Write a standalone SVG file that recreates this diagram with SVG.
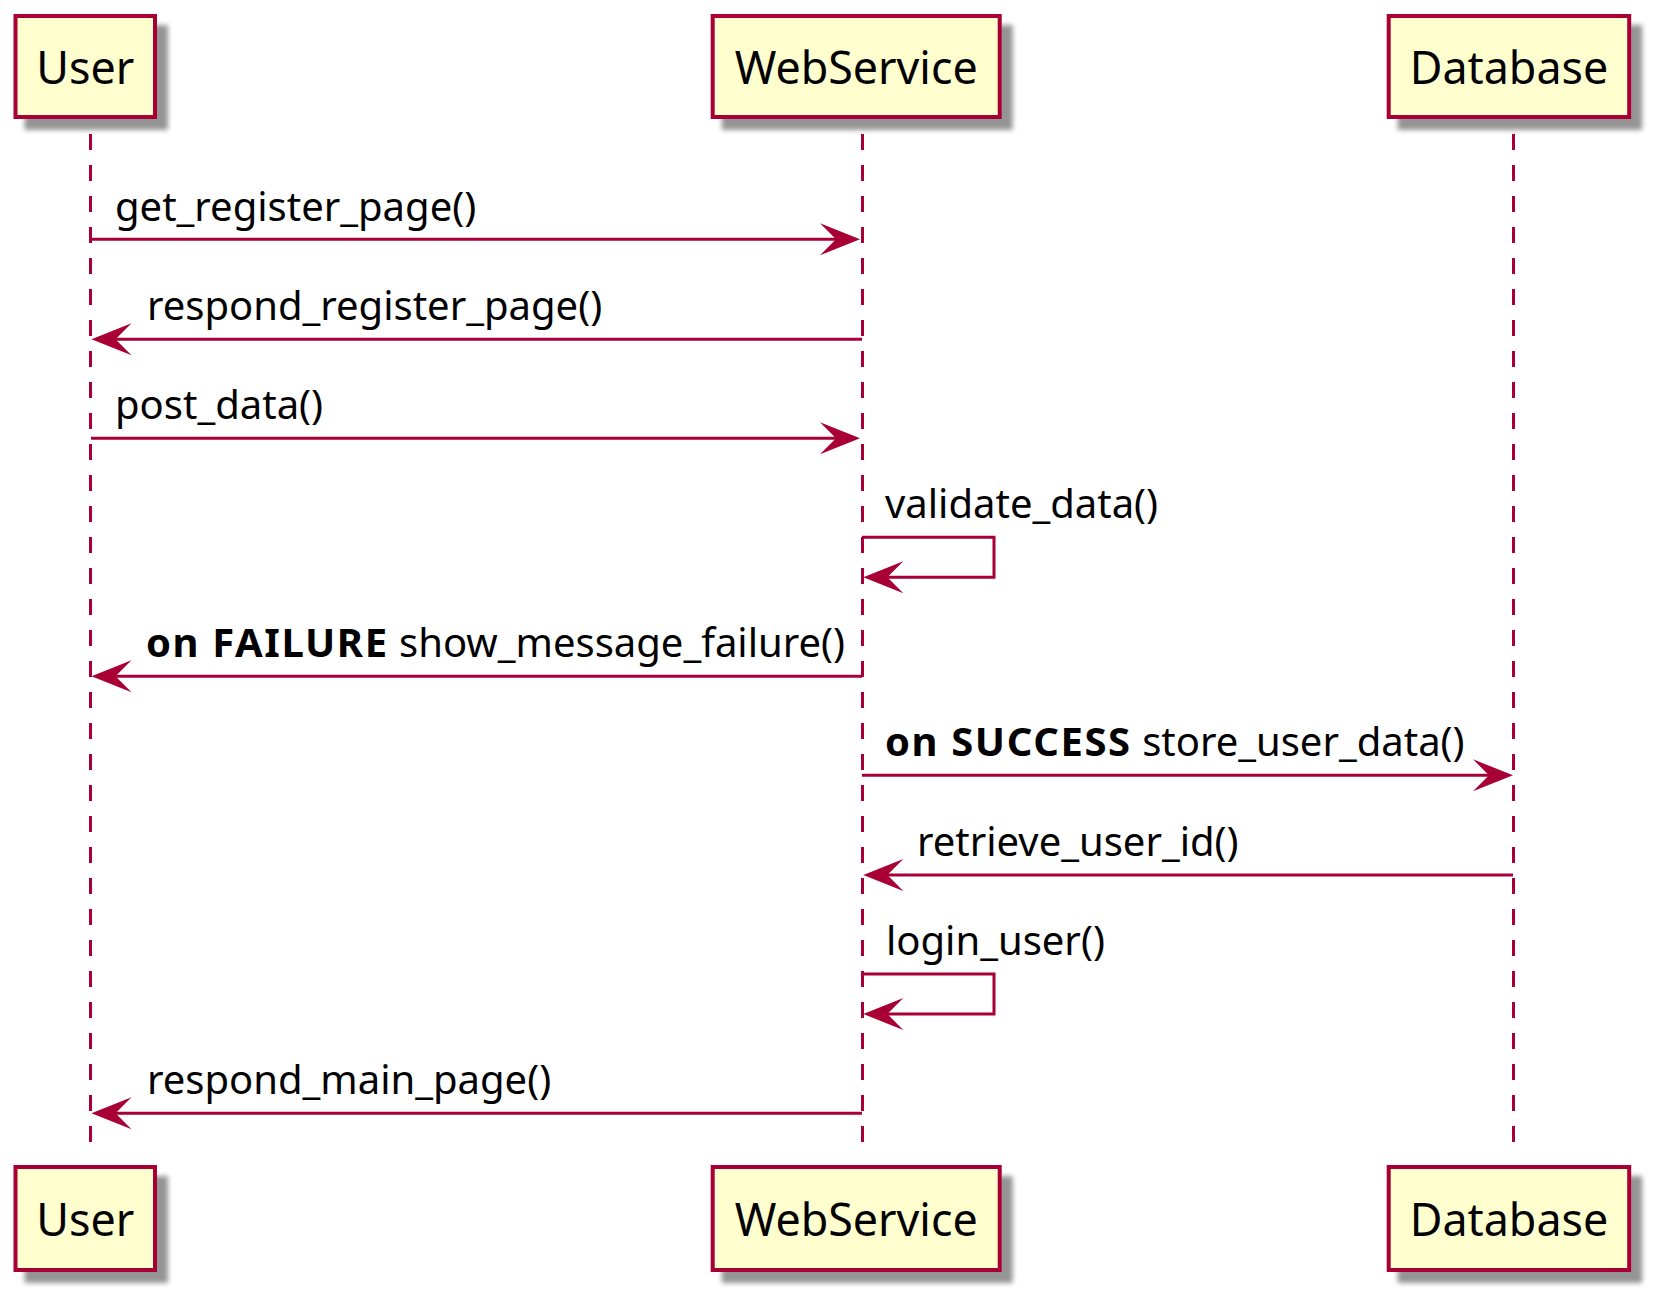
<svg xmlns="http://www.w3.org/2000/svg" width="1669" height="1310" viewBox="0 0 1669 1310">
<style>
.box{fill:#FEFECE;stroke:#A80036;stroke-width:4}
.pt{font-family:"Noto Sans","Liberation Sans",sans-serif;font-size:44.8px;fill:#000;text-anchor:middle}
.life{stroke:#A80036;stroke-width:3;stroke-dasharray:16,15;fill:none}
.msg{stroke:#A80036;stroke-width:3;fill:none;marker-end:url(#ah)}
.mt{font-family:"Noto Sans","Liberation Sans",sans-serif;font-size:40px;fill:#000}
.b{font-weight:bold;letter-spacing:1.6px}
</style>
<defs>
<filter id="sh" x="-20%" y="-20%" width="150%" height="160%">
<feGaussianBlur in="SourceAlpha" stdDeviation="2.5"/>
<feOffset dx="11" dy="11" result="o"/>
<feComponentTransfer in="o" result="s"><feFuncA type="linear" slope="0.42"/></feComponentTransfer>
<feMerge><feMergeNode in="s"/><feMergeNode in="SourceGraphic"/></feMerge>
</filter>
<marker id="ah" markerUnits="userSpaceOnUse" viewBox="-42 -18 44 36" markerWidth="44" markerHeight="36" refX="-10" refY="0" orient="auto">
<path d="M0,0 L-40,-16 L-24,0 L-40,16 Z" fill="#A80036"/>
</marker>
</defs>
<rect width="1669" height="1310" fill="#FFFFFF"/>
<g id="lifelines">
<line class="life" x1="90.5" y1="134" x2="90.5" y2="1150"/>
<line class="life" x1="862.5" y1="134" x2="862.5" y2="1150"/>
<line class="life" x1="1513.5" y1="134" x2="1513.5" y2="1150"/>
</g>
<g id="user">
<rect class="box" filter="url(#sh)" x="15.5" y="16" width="139.5" height="101"/>
<text class="pt" x="85.3" y="83.5">User</text>
</g>
<g id="webservice">
<rect class="box" filter="url(#sh)" x="712.7" y="16" width="287" height="101"/>
<text class="pt" x="856.2" y="83.5">WebService</text>
</g>
<g id="database">
<rect class="box" filter="url(#sh)" x="1388.7" y="16" width="240.5" height="101"/>
<text class="pt" x="1509" y="83.5">Database</text>
</g>
<g id="user-bottom">
<rect class="box" filter="url(#sh)" x="15.5" y="1167" width="139.5" height="103"/>
<text class="pt" x="85.3" y="1235.5">User</text>
</g>
<g id="webservice-bottom">
<rect class="box" filter="url(#sh)" x="712.7" y="1167" width="287" height="103"/>
<text class="pt" x="856.2" y="1235.5">WebService</text>
</g>
<g id="database-bottom">
<rect class="box" filter="url(#sh)" x="1388.7" y="1167" width="240.5" height="103"/>
<text class="pt" x="1509" y="1235.5">Database</text>
</g>
<g id="connectors">
<path class="msg" d="M91,239.3 H850"/>
<path class="msg" d="M862,339.3 H101.5"/>
<path class="msg" d="M91,438.3 H850"/>
<path class="msg" d="M862,537.3 H994 V577.3 H873.3"/>
<path class="msg" d="M862,676.3 H101.5"/>
<path class="msg" d="M862,775.3 H1503"/>
<path class="msg" d="M1513,875 H873.3"/>
<path class="msg" d="M862,974 H994 V1014 H873.3"/>
<path class="msg" d="M862,1113.3 H101.5"/>
</g>
<g id="labels">
<text class="mt" x="115" y="220.5">get_register_page()</text>
<text class="mt" x="147" y="319.5">respond_register_page()</text>
<text class="mt" x="115" y="419">post_data()</text>
<text class="mt" x="885" y="518">validate_data()</text>
<text class="mt" x="146" y="656.5"><tspan class="b">on FAILURE</tspan> show_message_failure()</text>
<text class="mt" x="885" y="755.5"><tspan class="b">on SUCCESS</tspan> store_user_data()</text>
<text class="mt" x="917" y="855.5">retrieve_user_id()</text>
<text class="mt" x="886" y="954.5">login_user()</text>
<text class="mt" x="147" y="1094">respond_main_page()</text>
</g>
</svg>
